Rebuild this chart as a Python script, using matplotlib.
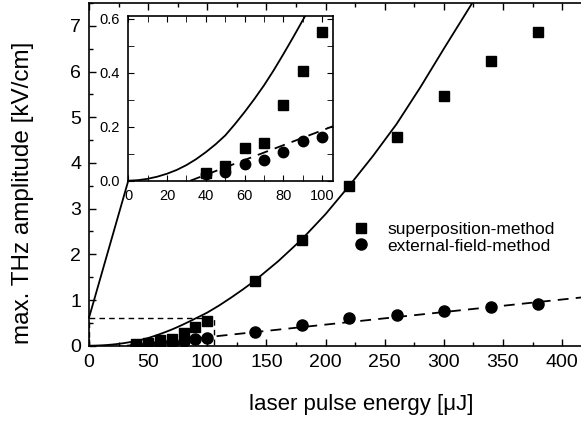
import matplotlib
matplotlib.use("Agg")
import matplotlib.pyplot as plt
from matplotlib.patches import Rectangle, ConnectionPatch
from matplotlib.ticker import MultipleLocator, FormatStrFormatter

plt.rcParams['font.family'] = ['Liberation Sans', 'DejaVu Sans']

# measured data (laser pulse energy in uJ, THz amplitude in kV/cm)
energy = [40, 50, 60, 70, 80, 90, 100, 140, 180, 220, 260, 300, 340, 380]
superposition = [0.027, 0.054, 0.123, 0.139, 0.279, 0.408, 0.55, 1.42, 2.31, 3.50, 4.57, 5.47, 6.23, 6.86]
external_field = [0.023, 0.034, 0.063, 0.078, 0.108, 0.149, 0.161, 0.31, 0.45, 0.61, 0.67, 0.76, 0.84, 0.91]

# fit curves
fit_sp_x = [0, 5, 10, 15, 20, 25, 30, 35, 40, 45, 50, 55, 60, 65, 70, 75, 80, 85, 90, 95, 100,
            110, 120, 130, 140, 160, 180, 200, 220, 240, 260, 280, 300, 324]
fit_sp_y = [0, 0.002, 0.007, 0.015, 0.026, 0.04, 0.058, 0.08, 0.106, 0.135, 0.168, 0.21, 0.255,
            0.303, 0.354, 0.41, 0.47, 0.532, 0.596, 0.66, 0.725, 0.88, 1.05, 1.23, 1.42, 1.85,
            2.33, 2.88, 3.5, 4.15, 4.85, 5.65, 6.5, 7.5]
fit_ef_x = [32, 425]
fit_ef_y = [0.0, 1.08]

main_xlim = (0, 420)
main_ylim = (0, 7.5)
inset_xlim = (0, 105.7)
inset_ylim = (0, 0.612)

fig = plt.figure(figsize=(5.81, 4.22), dpi=100)
ax = fig.add_axes([0.1532, 0.1808, 0.855, 0.812])

ax.plot(fit_sp_x, fit_sp_y, color='black', lw=1.3)
ax.plot(fit_ef_x, fit_ef_y, color='black', lw=1.3, dashes=(6, 4))
ax.plot(energy, superposition, 's', color='black', ms=7.5, label='superposition-method')
ax.plot(energy, external_field, 'o', color='black', ms=8, label='external-field-method')

ax.set_xlim(*main_xlim)
ax.set_ylim(*main_ylim)
ax.xaxis.set_major_locator(MultipleLocator(50))
ax.xaxis.set_minor_locator(MultipleLocator(25))
ax.yaxis.set_major_locator(MultipleLocator(1))
ax.yaxis.set_minor_locator(MultipleLocator(0.5))
ax.tick_params(which='both', direction='in', top=True, right=False, labelsize=14)
ax.tick_params(which='major', length=5, width=1)
ax.tick_params(which='minor', length=3, width=1)
ax.tick_params(axis='x', pad=6)
ax.tick_params(axis='y', pad=5.5)
ax.set_xlabel('laser pulse energy [\u03bcJ]', fontsize=16)
ax.set_ylabel('max. THz amplitude [kV/cm]', fontsize=17.5)
ax.xaxis.label.set_va('center')
ax.yaxis.label.set_va('center')
ax.xaxis.set_label_coords(0.548, -0.173)
ax.yaxis.set_label_coords(-0.133, 0.446)
for s in ax.spines.values():
    s.set_linewidth(1.2)

ax.legend(loc='upper left', bbox_to_anchor=(0.530, 0.36), frameon=False, fontsize=12.5,
          handletextpad=1.0, labelspacing=0.05, handlelength=1.0, borderaxespad=0, borderpad=0)

# zoom box showing the inset range
ax.add_patch(Rectangle((0, 0), inset_xlim[1], inset_ylim[1], fill=False, ec='black',
                       lw=1.0, ls=(0, (4, 3))))

# inset
axin = fig.add_axes([0.2208, 0.5718, 0.3529, 0.391])
axin.plot(fit_sp_x, fit_sp_y, color='black', lw=1.3)
axin.plot(fit_ef_x, fit_ef_y, color='black', lw=1.3, dashes=(6, 4))
axin.plot(energy, superposition, 's', color='black', ms=7)
axin.plot(energy, external_field, 'o', color='black', ms=7.5)
axin.set_xlim(*inset_xlim)
axin.set_ylim(*inset_ylim)
axin.xaxis.set_major_locator(MultipleLocator(20))
axin.xaxis.set_minor_locator(MultipleLocator(10))
axin.yaxis.set_major_locator(MultipleLocator(0.2))
axin.yaxis.set_minor_locator(MultipleLocator(0.1))
axin.yaxis.set_major_formatter(FormatStrFormatter('%.1f'))
axin.tick_params(which='both', direction='in', top=True, right=True, labelsize=10.5)
axin.tick_params(axis='x', pad=6)
axin.tick_params(axis='y', pad=6)
axin.tick_params(which='major', length=4)
axin.tick_params(which='minor', length=4)
for s in axin.spines.values():
    s.set_linewidth(1.2)

con = ConnectionPatch(xyA=(0, inset_ylim[1]), coordsA=ax.transData,
                      xyB=(0, 0), coordsB=axin.transAxes, color='black', lw=1.3)
fig.add_artist(con)

fig.savefig('out.png', dpi=100)
